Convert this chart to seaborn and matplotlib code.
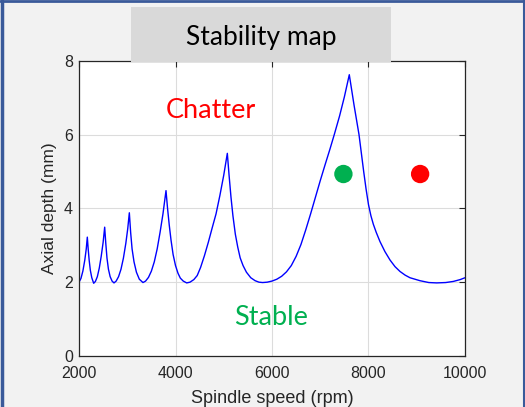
import numpy as np
import pandas as pd
import matplotlib
matplotlib.use("Agg")
import matplotlib.pyplot as plt
import seaborn as sns
from matplotlib.patches import Rectangle

# stability lobe (spindle speed rpm, axial depth mm)
speed = [2000, 2040, 2080, 2120, 2150, 2172, 2190, 2210, 2235, 2265, 2304,
         2340, 2380, 2420, 2460, 2500, 2532, 2555, 2580, 2610, 2645, 2685, 2725,
         2770, 2820, 2870, 2920, 2970, 3010, 3043, 3070, 3100, 3140, 3190, 3250, 3326,
         3380, 3440, 3500, 3560, 3620, 3680, 3740, 3803,
         3835, 3870, 3907, 3950, 4000, 4052, 4100, 4160, 4232,
         4300, 4380, 4450, 4520, 4600, 4680, 4760, 4840, 4920, 5000, 5074,
         5110, 5150, 5190, 5240, 5290, 5340, 5400, 5470, 5560, 5650, 5730, 5806,
         5900, 6000, 6100, 6200, 6300, 6400, 6500, 6600, 6700, 6800, 6900,
         7000, 7100, 7200, 7291, 7400, 7500, 7602,
         7700, 7803, 7900, 7950, 8000, 8050, 8100, 8160, 8238, 8340, 8446,
         8550, 8653, 8760, 8860, 9067, 9250, 9413, 9600, 9758, 9900, 10000]
depth = [2.00, 2.10, 2.30, 2.60, 2.90, 3.22, 2.90, 2.60, 2.32, 2.12, 1.97,
         2.02, 2.15, 2.38, 2.70, 3.08, 3.49, 3.05, 2.65, 2.35, 2.15, 2.03, 1.98,
         2.03, 2.15, 2.35, 2.65, 3.05, 3.45, 3.88, 3.35, 2.90, 2.55, 2.27, 2.08, 1.99,
         2.03, 2.13, 2.30, 2.55, 2.90, 3.35, 3.85, 4.48,
         4.00, 3.55, 3.14, 2.75, 2.45, 2.24, 2.11, 2.03, 1.98,
         2.00, 2.07, 2.18, 2.40, 2.72, 3.08, 3.47, 3.85, 4.35, 4.90, 5.49,
         4.90, 4.30, 3.80, 3.30, 2.95, 2.66, 2.45, 2.27, 2.12, 2.04, 2.00, 1.99,
         2.00, 2.03, 2.08, 2.16, 2.28, 2.45, 2.70, 3.02, 3.42, 3.85, 4.30,
         4.75, 5.18, 5.60, 6.00, 6.50, 7.02, 7.62,
         6.80, 6.00, 5.00, 4.52, 4.10, 3.80, 3.57, 3.35, 3.10, 2.83, 2.60,
         2.42, 2.29, 2.19, 2.12, 2.04, 1.99, 1.98, 1.99, 2.02, 2.07, 2.12]

# two test points
pt_speed = [7480, 9070]
pt_depth = [4.93, 4.93]
pt_color = ["#00b050", "#ff0000"]

lobe = pd.DataFrame({"speed": speed, "depth": depth})
pts = pd.DataFrame({"speed": pt_speed, "depth": pt_depth, "c": ["stable", "chatter"]})

sns.set_style("white")
plt.rcParams["font.family"] = ["Liberation Sans", "DejaVu Sans"]

fig = plt.figure(figsize=(5.25, 4.07), dpi=100, facecolor="#f2f2f2")
ax = fig.add_axes([0.1505, 0.1253, 0.7352, 0.7256])
ax.set_facecolor("white")

sns.lineplot(data=lobe, x="speed", y="depth", sort=False, color="#0000ff",
             linewidth=1.0, ax=ax)
sns.scatterplot(data=pts, x="speed", y="depth", hue="c", palette=pt_color,
                s=175, linewidth=0, legend=False, ax=ax, zorder=3)

ax.set_xlim(2000, 10000)
ax.set_ylim(0, 8)
ax.set_xticks([2000, 4000, 6000, 8000, 10000])
ax.set_yticks([0, 2, 4, 6, 8])
ax.grid(True, color="#dcdcdc", linewidth=0.8)
ax.set_axisbelow(True)
for s in ax.spines.values():
    s.set_color("#262626")
    s.set_linewidth(0.9)
ax.tick_params(direction="in", top=True, right=True, length=4, width=0.8,
               color="#262626", labelsize=11.5, labelcolor="#262626")
ax.tick_params(axis="x", pad=7.5)
ax.tick_params(axis="y", pad=4.5)
ax.set_xlabel("Spindle speed (rpm)", fontsize=13, color="#262626", labelpad=6)
ax.set_ylabel("Axial depth (mm)", fontsize=12.5, color="#262626", labelpad=5)

ax.text(4736, 6.65, "Chatter", color="#ff0000", fontsize=19.5, family="Lato",
        ha="center", va="center")
ax.text(5979, 1.03, "Stable", color="#00b050", fontsize=19.5, family="Lato",
        ha="center", va="center")

# title box
fig.patches.append(Rectangle((131 / 525, 1 - 62 / 407), 260 / 525, 55 / 407,
                             transform=fig.transFigure, facecolor="#d9d9d9",
                             edgecolor="none", zorder=5))
fig.text(261.5 / 525, 1 - 38 / 407, "Stability map", fontsize=19, family="Lato",
         color="black", ha="center", va="center", zorder=6)

# blue frame on left, top, right
bc = "#3a5a9a"
fig.add_artist(plt.Line2D([0.003, 0.003], [0, 1], transform=fig.transFigure, color=bc, linewidth=2.5))
fig.add_artist(plt.Line2D([0, 1], [0.997, 0.997], transform=fig.transFigure, color=bc, linewidth=2.0))
fig.add_artist(plt.Line2D([0.998, 0.998], [0, 1], transform=fig.transFigure, color=bc, linewidth=1.5))

fig.savefig("out.png", dpi=100, facecolor=fig.get_facecolor())
